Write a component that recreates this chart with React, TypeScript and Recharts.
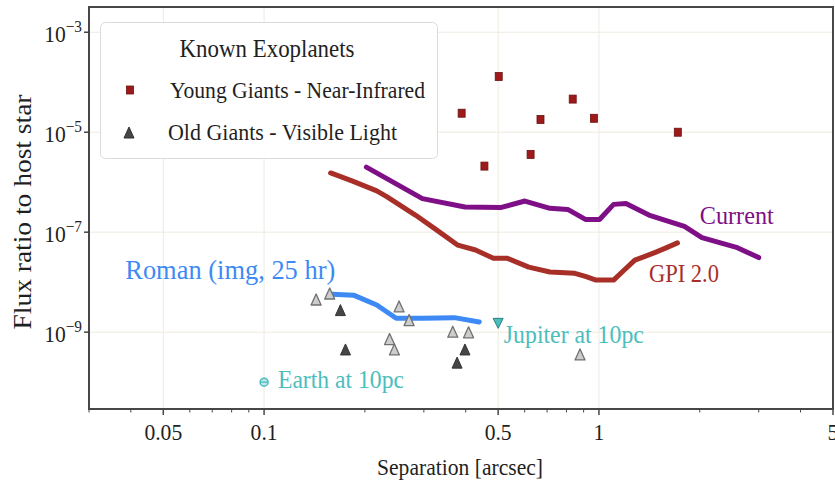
import React from 'react'
import {
  ScatterChart, Scatter, XAxis, YAxis, CartesianGrid, ReferenceArea, ReferenceDot, Legend,
} from 'recharts'

const SERIF = '"Liberation Serif", "Times New Roman", serif'

const INK = '#1f1f1f'
const AXIS = '#474747'
const GRID = '#eeeae0'
const PURPLE = '#7e0f86'
const BRICK = '#a82f28'
const BLUE = '#3d8af5'
const TEAL = '#4cbdbd'
const MAROON = '#9e1a1a'

// separation [arcsec] vs planet/star flux ratio

const youngGiants = [
  { sep: 0.389, flux: 2.4e-5 },
  { sep: 0.502, flux: 1.3e-4 },
  { sep: 0.455, flux: 2.1e-6 },
  { sep: 0.625, flux: 3.6e-6 },
  { sep: 0.669, flux: 1.8e-5 },
  { sep: 0.835, flux: 4.6e-5 },
  { sep: 0.966, flux: 1.9e-5 },
  { sep: 1.72, flux: 1.0e-5 },
]

const oldGiantsPale = [
  { sep: 0.143, flux: 4.4e-9 },
  { sep: 0.157, flux: 5.8e-9 },
  { sep: 0.253, flux: 3.2e-9 },
  { sep: 0.271, flux: 1.7e-9 },
  { sep: 0.237, flux: 7.1e-10 },
  { sep: 0.245, flux: 4.4e-10 },
  { sep: 0.366, flux: 1.0e-9 },
  { sep: 0.408, flux: 9.7e-10 },
  { sep: 0.878, flux: 3.5e-10 },
]

const oldGiantsDark = [
  { sep: 0.169, flux: 2.7e-9 },
  { sep: 0.175, flux: 4.4e-10 },
  { sep: 0.398, flux: 4.4e-10 },
  { sep: 0.377, flux: 2.4e-10 },
]

const currentCurve = [
  { sep: 0.202, flux: 2.0e-6 },
  { sep: 0.297, flux: 4.7e-7 },
  { sep: 0.398, flux: 3.2e-7 },
  { sep: 0.508, flux: 3.1e-7 },
  { sep: 0.601, flux: 4.2e-7 },
  { sep: 0.714, flux: 3.0e-7 },
  { sep: 0.807, flux: 2.85e-7 },
  { sep: 0.911, flux: 1.8e-7 },
  { sep: 1.004, flux: 1.8e-7 },
  { sep: 1.106, flux: 3.6e-7 },
  { sep: 1.204, flux: 3.75e-7 },
  { sep: 1.41, flux: 2.2e-7 },
  { sep: 1.8, flux: 1.3e-7 },
  { sep: 2.03, flux: 7.8e-8 },
  { sep: 2.59, flux: 4.9e-8 },
  { sep: 3.0, flux: 3.1e-8 },
]

const gpiCurve = [
  { sep: 0.158, flux: 1.53e-6 },
  { sep: 0.183, flux: 1.06e-6 },
  { sep: 0.217, flux: 6.7e-7 },
  { sep: 0.233, flux: 5.1e-7 },
  { sep: 0.283, flux: 2.2e-7 },
  { sep: 0.328, flux: 1.1e-7 },
  { sep: 0.379, flux: 5.5e-8 },
  { sep: 0.428, flux: 4.4e-8 },
  { sep: 0.484, flux: 3.0e-8 },
  { sep: 0.533, flux: 3.0e-8 },
  { sep: 0.617, flux: 2.0e-8 },
  { sep: 0.714, flux: 1.6e-8 },
  { sep: 0.847, flux: 1.5e-8 },
  { sep: 0.911, flux: 1.3e-8 },
  { sep: 0.98, flux: 1.1e-8 },
  { sep: 1.106, flux: 1.1e-8 },
  { sep: 1.19, flux: 1.75e-8 },
  { sep: 1.28, flux: 2.75e-8 },
  { sep: 1.36, flux: 3.2e-8 },
  { sep: 1.48, flux: 4.0e-8 },
  { sep: 1.58, flux: 4.8e-8 },
  { sep: 1.716, flux: 6.1e-8 },
]

const romanCurve = [
  { sep: 0.16, flux: 5.75e-9 },
  { sep: 0.185, flux: 5.5e-9 },
  { sep: 0.217, flux: 3.5e-9 },
  { sep: 0.248, flux: 1.9e-9 },
  { sep: 0.297, flux: 1.9e-9 },
  { sep: 0.37, flux: 1.95e-9 },
  { sep: 0.439, flux: 1.6e-9 },
]

const earth = [{ sep: 0.1, flux: 1e-10 }]
const jupiter = [{ sep: 0.5, flux: 1.5e-9 }]

const xTicks = [0.03, 0.04, 0.05, 0.06, 0.07, 0.08, 0.09, 0.1, 0.2, 0.3, 0.4, 0.5, 0.6, 0.7, 0.8, 0.9, 1, 2, 3, 4, 5]
const xLabelled = [0.05, 0.1, 0.5, 1, 5]
const yTicks = [1e-9, 1e-7, 1e-5, 1e-3]

const X_DOMAIN = [0.03, 5]
const Y_DOMAIN = [2.9e-11, 3.2e-3]

// text annotations, anchored at their left baseline
const notes = [
  { text: 'Roman (img, 25 hr)', sep: 0.0385, flux: 1.15e-8, color: BLUE, size: 28, width: 210 },
  { text: 'Current', sep: 2.0, flux: 1.45e-7, color: PURPLE, size: 26, width: 74 },
  { text: 'GPI 2.0', sep: 1.41, flux: 1.0e-8, color: BRICK, size: 26, width: 70 },
  { text: 'Jupiter at 10pc', sep: 0.52, flux: 6.0e-10, color: TEAL, size: 26, width: 140 },
  { text: 'Earth at 10pc', sep: 0.11, flux: 7.6e-11, color: TEAL, size: 26, width: 126 },
]

function SText({ x, y, size, width, anchor = 'start', fill = INK, rotate = false, children }: any) {
  return (
    <text
      x={x}
      y={y}
      fontSize={size}
      fontFamily={SERIF}
      fill={fill}
      textAnchor={anchor}
      textLength={width}
      lengthAdjust="spacingAndGlyphs"
      transform={rotate ? `rotate(-90 ${x} ${y})` : undefined}
    >
      {children}
    </text>
  )
}

const NoMark = () => <g />

const Square = ({ cx, cy }: any) => (
  <rect x={cx - 3.5} y={cy - 4} width={7} height={8} fill={MAROON} stroke="#6a1010" strokeWidth={0.8} />
)

const upTri = (cx: number, cy: number) => `${cx},${cy - 6} ${cx - 5},${cy + 5} ${cx + 5},${cy + 5}`

const PaleTriangle = ({ cx, cy }: any) => (
  <polygon points={upTri(cx, cy)} fill="#cdcdcd" stroke="#707070" strokeWidth={1.3} strokeLinejoin="round" />
)

const DarkTriangle = ({ cx, cy }: any) => (
  <polygon points={upTri(cx, cy)} fill="#464646" stroke="#333" strokeWidth={1} strokeLinejoin="round" />
)

const DownTriangle = ({ cx, cy }: any) => (
  <polygon points={`${cx - 5},${cy - 5} ${cx + 5},${cy - 5} ${cx},${cy + 5}`} fill={TEAL} stroke="#2b7f7f" strokeWidth={1} />
)

const EarthMark = ({ cx, cy }: any) => (
  <g>
    <circle cx={cx} cy={cy} r={4} fill="#bfe7e7" stroke={TEAL} strokeWidth={1.5} />
    <line x1={cx - 4} x2={cx + 4} y1={cy} y2={cy} stroke={TEAL} strokeWidth={1.3} />
  </g>
)

const XTick = ({ x, y, payload }: any) => {
  const major = xLabelled.includes(payload.value)
  return (
    <g>
      <line x1={x} x2={x} y1={y} y2={y + (major ? 6 : 3.5)} stroke={AXIS} strokeWidth={major ? 1.5 : 1} />
      {major && (
        <text
          transform={`translate(${x},${y + 31}) scale(0.9,1)`}
          textAnchor="middle"
          fontSize={24}
          fontFamily={SERIF}
          fill={INK}
        >
          {String(payload.value)}
        </text>
      )}
    </g>
  )
}

const YTick = ({ x, y, payload }: any) => {
  const e = Math.round(Math.log10(payload.value))
  return (
    <g>
      <line x1={x - 5} x2={x} y1={y} y2={y} stroke={AXIS} strokeWidth={1.5} />
      <text
        transform={`translate(${x - 7},${y + 10}) scale(0.9,1)`}
        textAnchor="end"
        fontSize={24}
        fontFamily={SERIF}
        fill={INK}
      >
        <tspan>10</tspan>
        <tspan dy={-10} fontSize={17}>{'\u2212' + Math.abs(e)}</tspan>
      </text>
    </g>
  )
}

const KeyBox = () => (
  <svg width={338} height={137} style={{ display: 'block' }}>
    <rect x={0.5} y={0.5} width={337} height={136} rx={5} fill="rgba(255,255,255,0.92)" stroke="#dadada" />
    <SText x={167} y={35} size={25} width={175} anchor="middle">Known Exoplanets</SText>
    <Square cx={30} cy={68} />
    <SText x={70} y={76} size={24} width={255}>Young Giants - Near-Infrared</SText>
    <DarkTriangle cx={29} cy={111} />
    <SText x={68} y={118} size={24} width={229}>Old Giants - Visible Light</SText>
  </svg>
)

const noteLabel = (n: any) => (props: any) => {
  const { x, y } = props.viewBox
  return <SText x={x} y={y} size={n.size} width={n.width} fill={n.color}>{n.text}</SText>
}

const curveLine = (stroke: string) => ({
  stroke, strokeWidth: 5, strokeLinejoin: 'round', strokeLinecap: 'round', fill: 'none',
})

export default function App() {
  return (
    <div style={{ position: 'absolute', left: 0, top: 0, width: 835, height: 482, background: '#fff' }}>
      <ScatterChart width={835} height={482} margin={{ top: 7, right: 2, left: 9, bottom: 33 }}>
        <CartesianGrid stroke={GRID} verticalValues={[0.05, 0.1, 0.5, 1]} horizontalValues={yTicks} />
        <XAxis
          type="number"
          dataKey="sep"
          scale="log"
          domain={X_DOMAIN}
          allowDataOverflow
          ticks={xTicks}
          interval={0}
          tick={<XTick />}
          tickSize={0}
          tickMargin={0}
          tickLine={false}
          axisLine={false}
          height={40}
        />
        <YAxis
          type="number"
          dataKey="flux"
          scale="log"
          domain={Y_DOMAIN}
          allowDataOverflow
          ticks={yTicks}
          interval={0}
          tick={<YTick />}
          tickSize={0}
          tickMargin={0}
          tickLine={false}
          axisLine={false}
          width={80}
        />

        <Scatter data={currentCurve} line={curveLine(PURPLE)} shape={NoMark} legendType="none" isAnimationActive={false} />
        <Scatter data={gpiCurve} line={curveLine(BRICK)} shape={NoMark} legendType="none" isAnimationActive={false} />
        <Scatter data={romanCurve} line={curveLine(BLUE)} shape={NoMark} legendType="none" isAnimationActive={false} />

        <Scatter data={youngGiants} shape={Square} legendType="none" isAnimationActive={false} />
        <Scatter data={oldGiantsPale} shape={PaleTriangle} legendType="none" isAnimationActive={false} />
        <Scatter data={oldGiantsDark} shape={DarkTriangle} legendType="none" isAnimationActive={false} />
        <Scatter data={earth} shape={EarthMark} legendType="none" isAnimationActive={false} />
        <Scatter data={jupiter} shape={DownTriangle} legendType="none" isAnimationActive={false} />

        {notes.map(n => (
          <ReferenceDot key={n.text} x={n.sep} y={n.flux} r={0} stroke="none" fill="none" label={noteLabel(n)} />
        ))}

        <ReferenceArea
          x1={X_DOMAIN[0]}
          x2={X_DOMAIN[1]}
          y1={Y_DOMAIN[0]}
          y2={Y_DOMAIN[1]}
          fill="none"
          fillOpacity={0}
          stroke={AXIS}
          strokeWidth={2}
          strokeOpacity={1}
          ifOverflow="visible"
        />

        <Legend
          layout="horizontal"
          verticalAlign="middle"
          align="center"
          wrapperStyle={{ left: 100, top: 22, width: 338, height: 137 }}
          content={<KeyBox />}
        />
      </ScatterChart>

      <svg width={835} height={482} style={{ position: 'absolute', left: 0, top: 0, pointerEvents: 'none' }}>
        <SText x={460} y={475} size={24} width={166} anchor="middle">Separation [arcsec]</SText>
        <SText x={31} y={212} size={26} width={235} anchor="middle" rotate>Flux ratio to host star</SText>
      </svg>
    </div>
  )
}
